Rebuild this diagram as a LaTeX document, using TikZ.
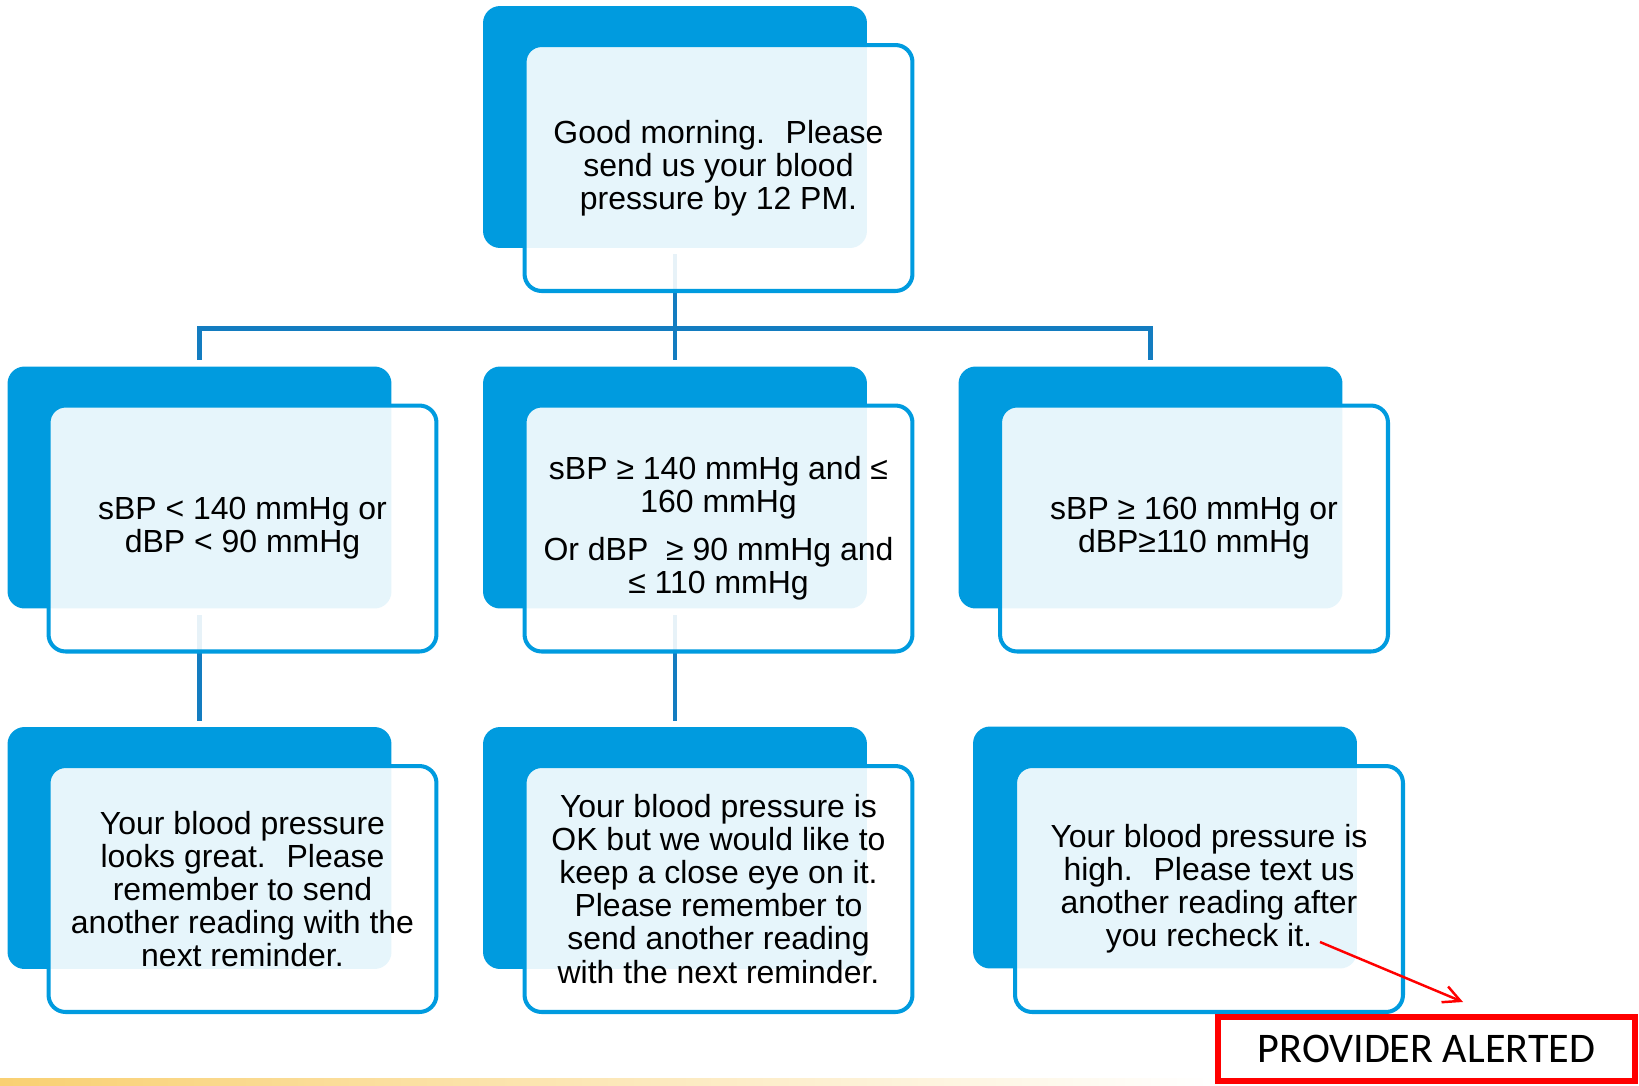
\documentclass[tikz,border=0pt]{standalone}
\usepackage{fontspec}
\setmainfont{Liberation Sans}
\newfontfamily\alertfont{Carlito}
\usetikzlibrary{arrows.meta}
\definecolor{bpblue}{HTML}{009BDF}
\definecolor{bplink}{HTML}{137CC0}
\definecolor{alertred}{HTML}{FF0000}
\definecolor{stripgold}{HTML}{F9D072}

\begin{document}
\begin{tikzpicture}[x=0.02cm,y=-0.02cm,
  back/.style={fill=bpblue,rounded corners=0.34cm,minimum width=7.68cm,minimum height=4.84cm,inner sep=0pt},
  card/.style={draw=bpblue,line width=2.3pt,fill=white,fill opacity=0.9,text opacity=1,rounded corners=0.34cm,
    minimum width=7.76cm,minimum height=4.92cm,inner sep=0pt,align=center,font=\fontsize{18.2}{18.8}\selectfont},
  link/.style={draw=bplink,line width=2.8pt,shorten <=0.12cm,shorten >=0.12cm},
  alertbox/.style={draw=alertred,line width=3.4pt,minimum width=8.34cm,minimum height=1.28cm,inner sep=0pt,
    font=\alertfont\fontsize{24}{25}\selectfont}]
  \useasboundingbox (0,0) rectangle (1639,1085);
  % back panels
  \node[back] (topb) at (675,127) {};
  \node[back] (midb1) at (199.5,487.5) {};
  \node[back] (midb2) at (675,487.5) {};
  \node[back] (midb3) at (1150.5,487.5) {};
  \node[back] (lowb1) at (199.5,848) {};
  \node[back] (lowb2) at (675,848) {};
  \node[back] (lowb3) at (1165,847.5) {};
  % tree lines
  \draw[link] (topb.south) -- ++(0,80) -| (midb1.north);
  \draw[link] (topb.south) -- (midb2.north);
  \draw[link] (topb.south) -- ++(0,80) -| (midb3.north);
  \draw[link] (midb1.south) -- (lowb1.north);
  \draw[link] (midb2.south) -- (lowb2.north);
  % front cards
  \node[card] (top) at (718.5,168) {Good morning.~ Please\\send us your blood\\pressure by 12 PM.};
  \node[card] (mid1) at (242.5,528.5) {sBP < 140 mmHg or\\dBP < 90 mmHg};
  \node[card] (mid2) at (718.5,528.5) {sBP ≥ 140 mmHg and ≤\\160 mmHg\\[0.3cm]Or dBP~ ≥ 90 mmHg and\\≤ 110 mmHg};
  \node[card] (mid3) at (1194,528.5) {sBP ≥ 160 mmHg or\\dBP≥110 mmHg};
  \node[card] (low1) at (242.5,889) {Your blood pressure\\looks great.~ Please\\remember to send\\another reading with the\\next reminder.};
  \node[card] (low2) at (718.5,889) {Your blood pressure is\\OK but we would like to\\keep a close eye on it.\\Please remember to\\send another reading\\with the next reminder.};
  \node[card] (low3) at (1209,889) {Your blood pressure is\\high.~ Please text us\\another reading after\\you recheck it.};
  % footer strip and alert
  \fill[left color=stripgold,right color=white] (0,1078) rectangle (1215,1085);
  \node[alertbox,fill=white] (alert) at (1426.5,1049) {PROVIDER ALERTED};
  \coordinate (recheck) at (1320,942);
  \coordinate (alerttip) at (1463,1002);
  \draw[alertred,line width=1.4pt,-{Straight Barb[length=0.34cm,width=0.34cm]}] (recheck) -- (alerttip);
\end{tikzpicture}
\end{document}
